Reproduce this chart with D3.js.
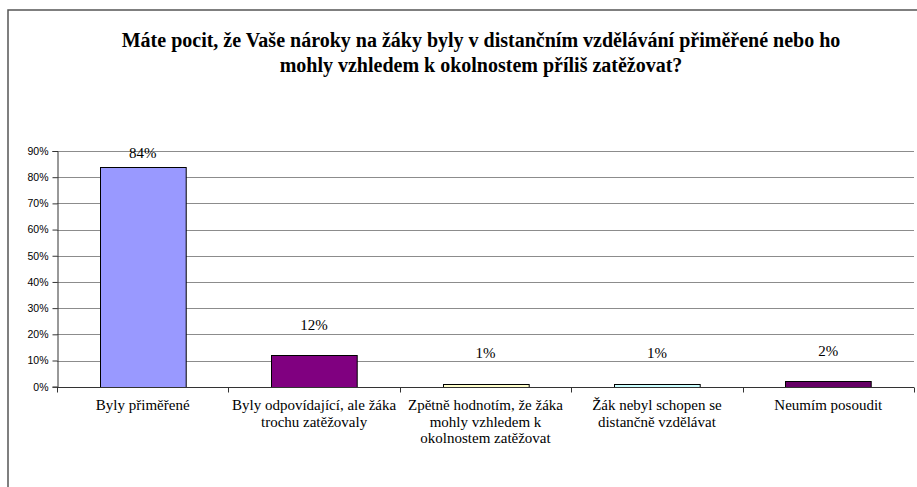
<!DOCTYPE html>
<html>
<head>
<meta charset="utf-8">
<script src="https://cdn.jsdelivr.net/npm/d3@7"></script>
<style>
  body { margin: 0; background: #fff; }
  svg { display: block; }
</style>
</head>
<body>
<svg id="chart" width="917" height="487"></svg>
<script>

// values
var categories = [
    "Byly přiměřené",
    "Byly odpovídající, ale žáka trochu zatěžovaly",
    "Zpětně hodnotím, že žáka mohly vzhledem k okolnostem zatěžovat",
    "Žák nebyl schopen se distančně vzdělávat",
    "Neumím posoudit"];
var values = [84, 12, 1, 1, 2];
var barColors = ["#9999FF", "#800080", "#FFFFCC", "#CCFFFF", "#660066"];
var yTicks = [0, 10, 20, 30, 40, 50, 60, 70, 80, 90];
var titleLines = [
    "Máte pocit, že Vaše nároky na žáky byly v distančním vzdělávání přiměřené nebo ho",
    "mohly vzhledem k okolnostem příliš zatěžovat?"];

var serif = "Liberation Serif, Times New Roman, serif";
var svg = d3.select("#chart");
var plotLeft = 57, plotRight = 914, plotTop = 151, plotBottom = 386.7;

var x = d3.scaleBand()
    .domain(categories)
    .range([plotLeft, plotRight])
    .paddingInner(0.5)
    .paddingOuter(0.25);

var y = d3.scaleLinear()
    .domain([0, 90])
    .range([plotBottom, plotTop]);

// outer frame (only top and left visible)
svg.append("path")
    .attr("d", "M8,487V10H917")
    .attr("fill", "none")
    .attr("stroke", "#555")
    .attr("stroke-width", 1.5);

// title
svg.append("g").selectAll("text")
    .data(titleLines)
    .enter().append("text")
    .attr("x", 481)
    .attr("y", function(d, i) { return 47 + i * 25; })
    .attr("text-anchor", "middle")
    .attr("font-family", serif)
    .attr("font-weight", "bold")
    .attr("font-size", 20)
    .attr("fill", "#000")
    .text(function(d) { return d; });

// gridlines
svg.append("g").selectAll("line")
    .data(yTicks.slice(1))
    .enter().append("line")
    .attr("x1", plotLeft).attr("x2", plotRight)
    .attr("y1", function(d) { return Math.round(y(d)) + 0.5; })
    .attr("y2", function(d) { return Math.round(y(d)) + 0.5; })
    .attr("stroke", "#8c8c8c")
    .attr("stroke-width", 1);

// y axis
var yAxis = svg.append("g")
    .attr("transform", "translate(" + (plotLeft + 0.5) + ",0)")
    .call(d3.axisLeft(y).tickValues(yTicks).tickSize(5).tickPadding(4)
        .tickFormat(function(d) { return d + "%"; }));
yAxis.select(".domain").attr("stroke", "#333");
yAxis.selectAll(".tick line").attr("stroke", "#333");
yAxis.selectAll("text")
    .attr("font-family", "Liberation Sans, Arial, sans-serif")
    .attr("font-size", 10.5)
    .attr("fill", "#000");

// bars
svg.append("g").selectAll("rect")
    .data(values)
    .enter().append("rect")
    .attr("x", function(d, i) { return Math.round(x(categories[i])) + 0.5; })
    .attr("y", function(d) { return Math.round(y(d)) + 0.5; })
    .attr("width", x.bandwidth())
    .attr("height", function(d) { return Math.round(y(0)) - Math.round(y(d)); })
    .attr("fill", function(d, i) { return barColors[i]; })
    .attr("stroke", "#000")
    .attr("stroke-width", 1);

// x axis with ticks at category boundaries
var xAxis = svg.append("g").attr("transform", "translate(0," + (Math.round(plotBottom) + 0.5) + ")");
xAxis.append("line")
    .attr("x1", plotLeft).attr("x2", plotRight)
    .attr("stroke", "#333");
xAxis.selectAll("line.tk")
    .data(d3.range(categories.length + 1))
    .enter().append("line")
    .attr("class", "tk")
    .attr("x1", function(i) { return Math.round(plotLeft + i * x.step()) + 0.5; })
    .attr("x2", function(i) { return Math.round(plotLeft + i * x.step()) + 0.5; })
    .attr("y1", 0).attr("y2", 5)
    .attr("stroke", "#333");

// category labels, wrapped
var maxW = 168;
svg.append("g").selectAll("text")
    .data(categories)
    .enter().append("text")
    .attr("text-anchor", "middle")
    .attr("font-family", serif)
    .attr("font-size", 15)
    .attr("fill", "#000")
    .each(function(d) {
        var t = d3.select(this);
        var cx = x(d) + x.bandwidth() / 2;
        var words = d.split(" ");
        var line = [];
        var n = 0;
        var tspan = t.append("tspan").attr("x", cx).attr("y", 410);
        words.forEach(function(w) {
            line.push(w);
            tspan.text(line.join(" "));
            if (tspan.node().getComputedTextLength() > maxW && line.length > 1) {
                line.pop();
                tspan.text(line.join(" "));
                line = [w];
                n++;
                tspan = t.append("tspan").attr("x", cx).attr("y", 410 + n * 16.7).text(w);
            }
        });
    });

// value labels
svg.append("g").selectAll("text")
    .data(values)
    .enter().append("text")
    .attr("x", function(d, i) { return x(categories[i]) + x.bandwidth() / 2; })
    .attr("y", function(d) { return Math.max(y(d) - 31, y(90) + 2); })
    .attr("dy", "0.35em")
    .attr("text-anchor", "middle")
    .attr("font-family", serif)
    .attr("font-size", 15)
    .attr("fill", "#000")
    .text(function(d) { return d + "%"; });

</script>
</body>
</html>
